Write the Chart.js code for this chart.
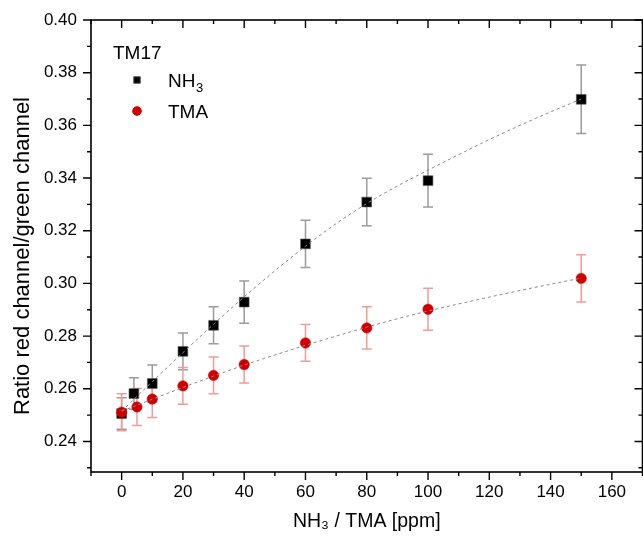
<!DOCTYPE html>
<html>
<head>
<meta charset="utf-8">
<script src="https://cdn.jsdelivr.net/npm/chart.js@4.4.0/dist/chart.umd.min.js"></script>
<style>
    html, body { margin: 0; padding: 0; overflow: hidden; background: #fff; }
    #wrap { position: absolute; left: 0; top: 0; width: 650px; height: 538px; }
</style>
</head>
<body>
<div id="wrap"><canvas id="ratioChart"></canvas></div>
<script>
const nh3Conc = [0, 4, 10, 20, 30, 40, 60, 80, 100, 150];
const nh3Ratio = [0.2506, 0.2582, 0.2620, 0.2742, 0.2841, 0.2929, 0.3150, 0.3309, 0.3390, 0.3699];
const nh3Err = [0.006, 0.006, 0.007, 0.007, 0.007, 0.008, 0.009, 0.009, 0.010, 0.013];

const tmaConc = [0, 5, 10, 20, 30, 40, 60, 80, 100, 150];
const tmaRatio = [0.2511, 0.2531, 0.2561, 0.2611, 0.2651, 0.2692, 0.2774, 0.2831, 0.2902, 0.3019];
const tmaErr = [0.007, 0.007, 0.007, 0.007, 0.007, 0.007, 0.007, 0.008, 0.008, 0.009];

// Fit-Kurven (gestrichelt)
const fitConc = [0, 10, 20, 30, 40, 50, 60, 70, 80, 90, 100, 110, 120, 130, 140, 150];
const nh3Fit = [0.2515, 0.2627, 0.2737, 0.2845, 0.2949, 0.3048, 0.3141, 0.3227, 0.3303, 0.3370, 0.3430, 0.3489, 0.3546, 0.3600, 0.3651, 0.3700];
const tmaFit = [0.2515, 0.2560, 0.2605, 0.2648, 0.2690, 0.2728, 0.2765, 0.2800, 0.2834, 0.2866, 0.2895, 0.2922, 0.2948, 0.2973, 0.2997, 0.3020];

// Achsen
const xTicks = [0, 20, 40, 60, 80, 100, 120, 140, 160];
const yTicks = [0.24, 0.26, 0.28, 0.30, 0.32, 0.34, 0.36, 0.38, 0.40];
const legendTitle = 'TM17';
const yTitle = 'Ratio red channel/green channel';

const FONT = "'Liberation Sans', Arial, sans-serif";
const toPoints = (xs, ys) => xs.map((x, i) => ({ x: x, y: ys[i] }));

// Fehlerbalken unter den Punkten
const errorBars = {
    id: 'errorBars',
    beforeDatasetsDraw(chart) {
        const ctx = chart.ctx;
        const xs = chart.scales.x, ys = chart.scales.y;
        chart.data.datasets.forEach((ds) => {
            if (!ds.errors) return;
            ctx.save();
            ctx.strokeStyle = ds.errorColor;
            ctx.lineWidth = 1.5;
            ds.data.forEach((p, i) => {
                const px = xs.getPixelForValue(p.x);
                const top = ys.getPixelForValue(p.y + ds.errors[i]);
                const bot = ys.getPixelForValue(p.y - ds.errors[i]);
                ctx.beginPath();
                ctx.moveTo(px, top); ctx.lineTo(px, bot);
                ctx.moveTo(px - 5, top); ctx.lineTo(px + 5, top);
                ctx.moveTo(px - 5, bot); ctx.lineTo(px + 5, bot);
                ctx.stroke();
            });
            ctx.restore();
        });
    }
};

// Rahmen, Haupt- und Nebenstriche, y-Titel
const frameTicks = {
    id: 'frameTicks',
    afterDraw(chart) {
        const ctx = chart.ctx;
        const a = chart.chartArea;
        const xs = chart.scales.x, ys = chart.scales.y;
        ctx.save();
        ctx.strokeStyle = '#000';
        ctx.lineWidth = 1.6;
        ctx.strokeRect(a.left, a.top, a.right - a.left, a.bottom - a.top);
        ctx.lineWidth = 1.4;
        ctx.beginPath();
        const xMinor = [];
        for (let i = 0; i < xTicks.length - 1; i++) xMinor.push((xTicks[i] + xTicks[i + 1]) / 2);
        xMinor.push(xTicks[0] - 10, xTicks[xTicks.length - 1] + 10);
        const yMinor = [];
        for (let i = 0; i < yTicks.length - 1; i++) yMinor.push((yTicks[i] + yTicks[i + 1]) / 2);
        yMinor.push(yTicks[0] - 0.01);
        const vx = (v, len) => {
            const px = xs.getPixelForValue(v);
            ctx.moveTo(px, a.bottom); ctx.lineTo(px, a.bottom + len);
            ctx.moveTo(px, a.top); ctx.lineTo(px, a.top + len);
        };
        const vy = (v, len) => {
            const py = ys.getPixelForValue(v);
            if (py < a.top - 0.5 || py > a.bottom + 0.5) return;
            ctx.moveTo(a.left, py); ctx.lineTo(a.left - len, py);
            ctx.moveTo(a.right, py); ctx.lineTo(a.right - len, py);
        };
        xTicks.forEach(v => vx(v, 8));
        xMinor.forEach(v => vx(v, 4));
        yTicks.forEach(v => vy(v, 8));
        yMinor.forEach(v => vy(v, 4));
        ctx.stroke();

        // y-Achsentitel (etwas unterhalb der Mitte wie im Original)
        ctx.translate(23, 256);
        ctx.rotate(-Math.PI / 2);
        ctx.fillStyle = '#000';
        ctx.font = '22px ' + FONT;
        ctx.textAlign = 'center';
        ctx.textBaseline = 'middle';
        ctx.fillText(yTitle, 0, 0);
        ctx.restore();
    }
};

// Legende im Diagramm
const inlineLegend = {
    id: 'inlineLegend',
    afterDraw(chart) {
        const ctx = chart.ctx;
        ctx.save();
        ctx.fillStyle = '#000';
        ctx.textBaseline = 'alphabetic';
        ctx.font = '19px ' + FONT;
        ctx.fillText(legendTitle, 113, 59);
        const rows = chart.data.datasets.filter(ds => ds.inLegend);
        rows.forEach((ds, i) => {
            const cy = 80 + i * 31;
            ctx.fillStyle = ds.backgroundColor;
            ctx.strokeStyle = ds.borderColor;
            Chart.helpers.drawPoint(ctx, {
                pointStyle: ds.pointStyle,
                radius: ds.pointStyle === 'rect' ? 4.6 : 4.3,
                borderWidth: 0.5,
                rotation: 0
            }, 137, cy);
            ctx.fillStyle = '#000';
            ctx.font = '19px ' + FONT;
            const m = ds.label.match(/^(.*?)([\u2080-\u2089])$/);
            if (m) {
                ctx.fillText(m[1], 168, cy + 6.5);
                const w = ctx.measureText(m[1]).width;
                ctx.font = '13px ' + FONT;
                ctx.fillText(String(m[2].charCodeAt(0) - 0x2080), 168 + w + 0.5, cy + 11.5);
            } else {
                ctx.fillText(ds.label, 168, cy + 6.5);
            }
        });
        ctx.restore();
    }
};

const ctx = document.getElementById('ratioChart').getContext('2d');
new Chart(ctx, {
    type: 'scatter',
    data: {
        datasets: [{
            label: 'NH₃',
            data: toPoints(nh3Conc, nh3Ratio),
            errors: nh3Err,
            errorColor: '#9b9b9b',
            inLegend: true,
            pointStyle: 'rect',
            pointRadius: 6.9,
            backgroundColor: '#000000',
            borderColor: '#555555',
            borderWidth: 0.6,
            order: 2
        }, {
            label: 'TMA',
            data: toPoints(tmaConc, tmaRatio),
            errors: tmaErr,
            errorColor: '#f29a9a',
            inLegend: true,
            pointStyle: 'circle',
            pointRadius: 5.2,
            backgroundColor: '#d00000',
            borderColor: '#d00000',
            borderWidth: 0.5,
            order: 1
        }, {
            label: 'NH₃ fit',
            type: 'line',
            data: toPoints(fitConc, nh3Fit),
            borderColor: '#8a8a8a',
            borderWidth: 1,
            borderDash: [3, 3],
            pointRadius: 0,
            cubicInterpolationMode: 'monotone',
            fill: false,
            order: 0
        }, {
            label: 'TMA fit',
            type: 'line',
            data: toPoints(fitConc, tmaFit),
            borderColor: '#8a8a8a',
            borderWidth: 1,
            borderDash: [3, 3],
            pointRadius: 0,
            cubicInterpolationMode: 'monotone',
            fill: false,
            order: 0
        }]
    },
    options: {
        responsive: true,
        maintainAspectRatio: false,
        animation: false,
        layout: { padding: { top: 20, right: 2, left: 0, bottom: 0 } },
        plugins: {
            legend: { display: false },
            tooltip: { enabled: false }
        },
        scales: {
            x: {
                type: 'linear',
                min: -10,
                max: 170,
                afterBuildTicks: (scale) => { scale.ticks = xTicks.map(v => ({ value: v })); },
                afterFit: (scale) => { scale.height = 66; },
                grid: { display: true, drawOnChartArea: false, drawTicks: true, tickLength: 8, tickColor: 'rgba(0,0,0,0)' },
                border: { display: false },
                ticks: {
                    color: '#000',
                    padding: 2,
                    maxRotation: 0,
                    font: { family: FONT, size: 17 },
                    callback: (v) => String(v)
                },
                title: {
                    display: true,
                    text: 'NH₃ / TMA [ppm]',
                    color: '#000',
                    font: { family: FONT, size: 19.5 },
                    padding: { top: 0, bottom: 5 }
                }
            },
            y: {
                type: 'linear',
                min: 0.2284,
                max: 0.40,
                afterBuildTicks: (scale) => { scale.ticks = yTicks.map(v => ({ value: v })); },
                afterFit: (scale) => { scale.width = 91; },
                grid: { display: true, drawOnChartArea: false, drawTicks: true, tickLength: 8, tickColor: 'rgba(0,0,0,0)' },
                border: { display: false },
                ticks: {
                    color: '#000',
                    padding: 6,
                    font: { family: FONT, size: 17 },
                    callback: (v) => Number(v).toFixed(2)
                }
            }
        }
    },
    plugins: [errorBars, frameTicks, inlineLegend]
});
</script>
</body>
</html>
